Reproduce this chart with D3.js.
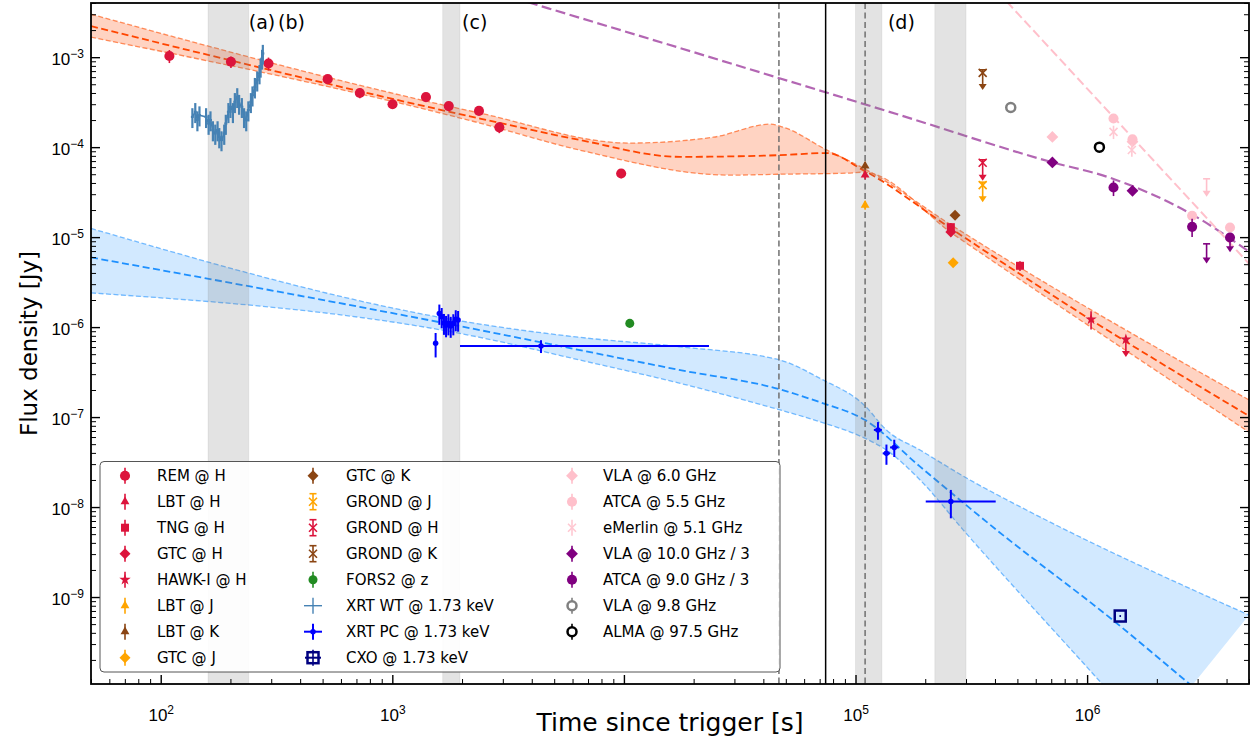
<!DOCTYPE html>
<html>
<head>
<meta charset="utf-8">
<script src="https://cdn.jsdelivr.net/npm/d3@7"></script>
<style>
  body { margin: 0; background: #fff; }
  svg { font-family: "DejaVu Sans", sans-serif; display: block; }
</style>
</head>
<body>
<svg id="vis" width="1255" height="742"></svg>
<script>
// ---------- axis ranges / ticks ----------
const X_DOMAIN = [50, 5e6];
const Y_DOMAIN = [1.08e-10, 4e-3];
const X_MAJOR = [1e2, 1e3, 1e4, 1e5, 1e6];
const X_LABELS = ["2", "3", "", "5", "6"];          // 10^4 label is hidden under the axis title
const Y_MAJOR = [1e-9, 1e-8, 1e-7, 1e-6, 1e-5, 1e-4, 1e-3];
const Y_LABELS = ["\u22129", "\u22128", "\u22127", "\u22126", "\u22125", "\u22124", "\u22123"];

// ---------- afterglow models (time [s], flux density [Jy]) ----------
// optical/NIR model
const optMidT = [50, 2390, 6460, 1.75e4, 4.72e4, 7.53e4, 1.08e5, 2.64e5, 1.01e6, 5e6];
const optMidF = [2.21e-3, 2.08e-4, 1.20e-4, 7.8e-5, 8.15e-5, 8.6e-5, 5.55e-5, 1.2e-5, 1.26e-6, 1.03e-7];
const optHiT = [50, 2390, 1.06e4, 2.43e4, 4.28e4, 4.86e4, 7.53e4, 1.08e5, 2.64e5, 5e6];
const optHiF = [3.0e-3, 2.39e-4, 1.11e-4, 1.29e-4, 1.80e-4, 1.67e-4, 9.26e-5, 5.85e-5, 1.32e-5, 1.55e-7];
const optLoT = [50, 2390, 6460, 2.87e4, 4.72e4, 9.19e4, 1.08e5, 2.64e5, 5e6];
const optLoF = [1.67e-3, 1.85e-4, 9.26e-5, 4.89e-5, 5.0e-5, 5.14e-5, 5.27e-5, 1.08e-5, 6.8e-8];
// X-ray model
const xrMidT = [50, 2390, 6460, 1.75e4, 4.72e4, 7.03e4, 1.10e5, 1.90e5, 4.07e5, 1.29e6, 2.69e6, 5e6];
const xrMidF = [5.95e-6, 9.26e-7, 5.55e-7, 3.33e-7, 2.03e-7, 1.46e-7, 9.27e-8, 2.81e-8, 5.55e-9, 5.55e-10, 1.15e-10, 3.0e-11];
const xrHiT = [50, 2390, 6460, 1.75e4, 4.72e4, 7.03e4, 1.10e5, 1.36e5, 1.90e5, 3.12e5, 5.13e5, 5e6];
const xrHiF = [1.25e-5, 1.08e-6, 7.69e-7, 6.04e-7, 4.30e-7, 2.69e-7, 1.33e-7, 7.17e-8, 4.30e-8, 2.0e-8, 1.01e-8, 6.3e-10];
const xrLoT = [50, 2390, 6460, 1.75e4, 4.72e4, 7.03e4, 1.10e5, 1.36e5, 1.90e5, 2.92e5, 1.14e6, 1.87e6];
const xrLoF = [2.40e-6, 7.69e-7, 4.30e-7, 2.37e-7, 1.20e-7, 8.87e-8, 5.80e-8, 4.30e-8, 2.0e-8, 5.55e-9, 1.14e-10, 2.75e-11];
// radio models
const radT = [2920, 1.556e5, 7.06e5, 1.22e6, 2.97e6, 5e6];
const radF = [5.06e-3, 2.27e-4, 6.8e-5, 4.68e-5, 1.67e-5, 6.9e-6];
const lowRadT = [4.5e5, 5e6];
const lowRadF = [4.14e-3, 5.06e-6];

// ---------- shaded intervals, vertical markers, labels ----------
const SPAN_LO = [160, 1650, 1.0e5, 2.2e5];
const SPAN_HI = [240, 1960, 1.3e5, 3.0e5];
const VLINE_T = [4.67e4, 7.43e4, 1.10e5];
const ANN_T = [240, 321, 2000, 1.38e5];
const ANN_F = [2.05e-3, 2.05e-3, 2.05e-3, 2.05e-3];
const ANN_TEXT = ["(a)", "(b)", "(c)", "(d)"];

// ---------- observations ----------
const remT = [109, 201, 292, 526, 724, 1002, 1397, 1753, 2367, 2898, 9730];
const remF = [1.03e-3, 8.9e-4, 8.5e-4, 5.7e-4, 4.0e-4, 3.0e-4, 3.6e-4, 2.86e-4, 2.53e-4, 1.66e-4, 5.1e-5];
const remE = [1.7e-4, 1.3e-4, 1.4e-4, 4e-5, 5e-5, 3e-5, 3e-5, 3e-5, 2.5e-5, 2.3e-5, 6e-6];
const lbtHT = [1.1e5], lbtHF = [4.9e-5], lbtHE = [5e-6];
const lbtKT = [1.1e5], lbtKF = [6.2e-5], lbtKE = [6e-6];
const lbtJT = [1.1e5], lbtJF = [2.27e-5], lbtJE = [2.5e-6];
const tngHT = [2.58e5, 5.13e5], tngHF = [1.29e-5, 4.8e-6], tngHE = [1.5e-6, 6e-7];
const gtcHT = [2.58e5], gtcHF = [1.14e-5], gtcHE = [1.2e-6];
const gtcKT = [2.69e5], gtcKF = [1.75e-5], gtcKE = [1.5e-6];
const gtcJT = [2.64e5], gtcJF = [5.2e-6], gtcJE = [4e-7];
const hawkT = [1.04e6, 1.47e6], hawkF = [1.22e-6, 7.3e-7], hawkE = [2.8e-7, 2.0e-7], hawkLim = [false, true];
const groJT = [3.54e5], groJF = [3.78e-5], groJE = [1.0e-5];
const groHT = [3.54e5], groHF = [6.7e-5], groHE = [1.9e-5];
const groKT = [3.54e5], groKF = [6.7e-4], groKE = [1.8e-4];
const forsT = [1.06e4], forsF = [1.1e-6], forsE = [1.0e-7];
const wtT = [137, 141, 144, 147, 157, 161, 164, 168, 172, 176, 179, 183, 188, 191, 196, 200,
             205, 209, 214, 218, 224, 229, 234, 239, 245, 249, 255, 261, 267, 270, 274, 276];
const wtF = [2.17e-4, 2.47e-4, 2.0e-4, 2.27e-4, 2.17e-4, 1.83e-4, 2.0e-4, 1.55e-4, 1.42e-4, 1.55e-4, 1.30e-4,
             1.20e-4, 1.42e-4, 1.83e-4, 2.47e-4, 2.81e-4, 2.47e-4, 3.19e-4, 3.62e-4, 3.05e-4, 2.81e-4, 2.17e-4,
             2.0e-4, 2.58e-4, 3.19e-4, 3.78e-4, 4.68e-4, 5.55e-4, 6.59e-4, 7.82e-4, 9.67e-4, 1.10e-3];
const wtE = [5.4e-5, 6.2e-5, 5.0e-5, 5.7e-5, 5.4e-5, 4.6e-5, 5.0e-5, 3.9e-5, 3.6e-5, 3.9e-5, 3.3e-5,
             3.0e-5, 3.6e-5, 4.6e-5, 6.2e-5, 7.0e-5, 6.2e-5, 8.0e-5, 9.0e-5, 7.6e-5, 7.0e-5, 5.4e-5,
             5.0e-5, 6.5e-5, 8.0e-5, 9.5e-5, 1.2e-4, 1.4e-4, 1.6e-4, 1.9e-4, 2.4e-4, 2.7e-4];
const wtX = [2, 2, 2, 2, 2.4, 2.4, 2.5, 2.5, 2.6, 2.6, 2.7, 2.7, 2.8, 2.9, 2.9, 3,
             3.1, 3.1, 3.2, 3.3, 3.4, 3.4, 3.5, 3.6, 3.7, 3.7, 3.8, 3.9, 4, 4, 4.1, 4.1];
const pcT = [1538, 1596, 1634, 1671, 1706, 1746, 1787, 1834, 1879, 1923, 4385, 1.25e5, 1.36e5, 1.47e5, 2.58e5];
const pcF = [6.6e-7, 1.42e-6, 1.30e-6, 1.11e-6, 1.05e-6, 1.10e-6, 1.03e-6, 1.10e-6, 1.22e-6, 1.20e-6,
             6.15e-7, 7.2e-8, 3.95e-8, 4.6e-8, 1.15e-8];
const pcE = [2.0e-7, 3.6e-7, 3.3e-7, 2.9e-7, 2.8e-7, 2.9e-7, 2.7e-7, 2.9e-7, 3.2e-7, 3.1e-7,
             1.0e-7, 1.6e-8, 1.0e-8, 1.0e-8, 4.0e-9];
const pcXlo = [25, 25, 25, 25, 25, 25, 25, 25, 30, 30, 2425, 5e3, 5e3, 6e3, 5.7e4];
const pcXhi = [25, 25, 25, 25, 25, 25, 25, 25, 30, 30, 18915, 5e3, 5e3, 6e3, 1.45e5];
const cxoT = [1.39e6], cxoF = [6.15e-10], cxoE = [1.5e-11];
const vla6T = [7.08e5, 1.57e6], vla6F = [1.30e-4, 1.15e-4], vla6E = [8e-6, 8e-6];
const atca55T = [1.30e6, 1.57e6, 2.84e6, 4.14e6], atca55F = [2.08e-4, 1.22e-4, 1.73e-5, 1.28e-5];
const atca55E = [1.5e-5, 1.0e-5, 2.0e-6, 1.5e-6];
const emerT = [1.30e6, 1.56e6], emerF = [1.48e-4, 9.3e-5], emerE = [2.5e-5, 1.5e-5];
const vla10T = [7.08e5, 1.57e6], vla10F = [6.76e-5, 3.27e-5], vla10E = [4e-6, 2.5e-6];
const atca9T = [1.30e6, 2.84e6, 4.14e6], atca9F = [3.56e-5, 1.30e-5, 9.9e-6];
const atca9E = [7e-6, 3e-6, 2.2e-6], atca9Lim = [false, false, true];
const vla98T = [4.68e5], vla98F = [2.76e-4], vla98E = [1e-5];
const almaT = [1.13e6], almaF = [1.0e-4], almaE = [4e-6];
// radio upper limits drawn without a marker
const emerLimT = [3.28e6], emerLimF = [4.12e-5], emerLimE = [9.3e-6];
const atcaLimT = [3.28e6], atcaLimF = [7.8e-6], atcaLimE = [2.0e-6];

// ---------- series table (style + references to arrays above) ----------
const SERIES = [
  {label: "REM @ H", t: remT, f: remF, e: remE, color: "#dc143c", shape: "circle", size: 80},
  {label: "LBT @ H", t: lbtHT, f: lbtHF, e: lbtHE, color: "#dc143c", shape: "triangle", size: 34},
  {label: "TNG @ H", t: tngHT, f: tngHF, e: tngHE, color: "#dc143c", shape: "square", size: 64},
  {label: "GTC @ H", t: gtcHT, f: gtcHF, e: gtcHE, color: "#dc143c", shape: "diamond", size: 60},
  {label: "HAWK-I @ H", t: hawkT, f: hawkF, e: hawkE, lim: hawkLim, color: "#dc143c", shape: "star", size: 40},
  {label: "LBT @ J", t: lbtJT, f: lbtJF, e: lbtJE, color: "#ffa500", shape: "triangle", size: 34},
  {label: "LBT @ K", t: lbtKT, f: lbtKF, e: lbtKE, color: "#8b4513", shape: "triangle", size: 34},
  {label: "GTC @ J", t: gtcJT, f: gtcJF, e: gtcJE, color: "#ffa500", shape: "diamond", size: 60},
  {label: "GTC @ K", t: gtcKT, f: gtcKF, e: gtcKE, color: "#8b4513", shape: "diamond", size: 60},
  {label: "GROND @ J", t: groJT, f: groJF, e: groJE, lim: [true], cap: true, color: "#ffa500", shape: "x", size: 4},
  {label: "GROND @ H", t: groHT, f: groHF, e: groHE, lim: [true], cap: true, color: "#dc143c", shape: "x", size: 4},
  {label: "GROND @ K", t: groKT, f: groKF, e: groKE, lim: [true], cap: true, color: "#8b4513", shape: "x", size: 4},
  {label: "FORS2 @ z", t: forsT, f: forsF, e: forsE, color: "#228b22", shape: "circle", size: 64},
  {label: "XRT WT @ 1.73 keV", t: wtT, f: wtF, e: wtE, xlo: wtX, xhi: wtX, join: true,
   color: "#4682b4", shape: "none", width: 2.2, legendWidth: 1.4},
  {label: "XRT PC @ 1.73 keV", t: pcT, f: pcF, e: pcE, xlo: pcXlo, xhi: pcXhi, color: "#0000ff", shape: "circle", size: 24, width: 2},
  {label: "CXO @ 1.73 keV", t: cxoT, f: cxoF, e: cxoE, color: "#000080", shape: "opensquare", size: 11},
  {label: "VLA @ 6.0 GHz", t: vla6T, f: vla6F, e: vla6E, color: "#ffc0cb", shape: "diamond", size: 70},
  {label: "ATCA @ 5.5 GHz", t: atca55T, f: atca55F, e: atca55E, color: "#ffc0cb", shape: "circle", size: 80},
  {label: "eMerlin @ 5.1 GHz", t: emerT, f: emerF, e: emerE, color: "#ffc8d2", shape: "x", size: 4},
  {label: "VLA @ 10.0 GHz / 3", t: vla10T, f: vla10F, e: vla10E, color: "#800080", shape: "diamond", size: 70},
  {label: "ATCA @ 9.0 GHz / 3", t: atca9T, f: atca9F, e: atca9E, lim: atca9Lim, color: "#800080", shape: "circle", size: 80},
  {label: "VLA @ 9.8 GHz", t: vla98T, f: vla98F, e: vla98E, color: "#808080", shape: "opencircle", size: 4.5},
  {label: "ALMA @ 97.5 GHz", t: almaT, f: almaF, e: almaE, color: "#000000", shape: "opencircle", size: 4.5},
  {label: null, t: emerLimT, f: emerLimF, e: emerLimE, lim: [true], cap: true, color: "#ffc0cb", shape: "none"},
  {label: null, t: atcaLimT, f: atcaLimF, e: atcaLimE, lim: [true], cap: true, color: "#800080", shape: "none"}
];

const MARGINS = {top: 3, right: 6, bottom: 58, left: 91};
const svg = d3.select("#vis");
const W = +svg.attr("width"), H = +svg.attr("height");

const x = d3.scaleLog().domain(X_DOMAIN).range([MARGINS.left, W - MARGINS.right]);
const y = d3.scaleLog().domain(Y_DOMAIN).range([H - MARGINS.bottom, MARGINS.top]);
const plotW = W - MARGINS.left - MARGINS.right, plotH = H - MARGINS.top - MARGINS.bottom;

svg.append("defs").append("clipPath").attr("id", "clip")
  .append("rect").attr("x", MARGINS.left).attr("y", MARGINS.top).attr("width", plotW).attr("height", plotH);
const plot = svg.append("g").attr("clip-path", "url(#clip)");

// ---------- models ----------
const curve = d3.line().curve(d3.curveMonotoneX);
function toPts(ts, fs) { return ts.map((t, i) => [x(t), y(fs[i])]); }

function drawModel(mid, hi, lo, c) {
  const up = curve(hi);
  const dn = curve(lo.slice().reverse()).replace(/^M/, "L");
  plot.append("path").attr("d", up + dn + "Z").attr("fill", c.fill).attr("fill-opacity", c.alpha);
  [hi, lo].forEach(p => plot.append("path").attr("d", curve(p))
    .attr("fill", "none").attr("stroke", c.edge).attr("stroke-opacity", 0.75)
    .attr("stroke-width", 1.3).attr("stroke-dasharray", "5,2.5"));
  plot.append("path").attr("d", curve(mid)).attr("fill", "none")
    .attr("stroke", c.line).attr("stroke-width", 1.8).attr("stroke-dasharray", "7,3.5");
}

drawModel(toPts(optMidT, optMidF), toPts(optHiT, optHiF), toPts(optLoT, optLoF),
  {fill: "#ff4500", alpha: 0.24, edge: "#ff6a2a", line: "#ff4500"});
drawModel(toPts(xrMidT, xrMidF), toPts(xrHiT, xrHiF), toPts(xrLoT, xrLoF),
  {fill: "#1e90ff", alpha: 0.2, edge: "#4aa6ff", line: "#1e90ff"});

plot.append("path").attr("d", curve(toPts(radT, radF))).attr("fill", "none")
  .attr("stroke", "#800080").attr("stroke-opacity", 0.6).attr("stroke-width", 2.2).attr("stroke-dasharray", "10,4.5");
plot.append("path").attr("d", curve(toPts(lowRadT, lowRadF))).attr("fill", "none")
  .attr("stroke", "#ffc0cb").attr("stroke-width", 2).attr("stroke-dasharray", "9,4");

// ---------- shaded windows and vertical lines ----------
SPAN_LO.forEach((lo, i) => {
  plot.append("rect").attr("x", x(lo)).attr("width", x(SPAN_HI[i]) - x(lo))
    .attr("y", MARGINS.top).attr("height", plotH)
    .attr("fill", "#808080").attr("fill-opacity", 0.22)
    .attr("stroke", "#808080").attr("stroke-opacity", 0.12);
});
VLINE_T.forEach((t, i) => {
  const solid = i === 1;
  plot.append("line").attr("x1", x(t)).attr("x2", x(t))
    .attr("y1", MARGINS.top).attr("y2", H - MARGINS.bottom)
    .attr("stroke", solid ? "#000" : "#707070").attr("stroke-width", 1.5)
    .attr("stroke-dasharray", solid ? null : "6,3.5");
});

// ---------- markers ----------
function markerPath(shape, size) {
  switch (shape) {
    case "circle": return d3.symbol(d3.symbolCircle, size)();
    case "triangle": return d3.symbol(d3.symbolTriangle, size)();
    case "square": return d3.symbol(d3.symbolSquare, size)();
    case "diamond": return d3.symbol(d3.symbolSquare, size)();
    case "star": return d3.symbol(d3.symbolStar, size)();
    default: return null;
  }
}

function drawMarker(g, s, cx, cy) {
  const col = s.color;
  if (s.shape === "x") {
    const r = s.size;
    g.append("path").attr("d", `M${cx - r},${cy - r}L${cx + r},${cy + r}M${cx - r},${cy + r}L${cx + r},${cy - r}`)
      .attr("stroke", col).attr("stroke-width", 1.6).attr("fill", "none");
  } else if (s.shape === "opensquare") {
    const h = s.size / 2;
    g.append("rect").attr("x", cx - h).attr("y", cy - h).attr("width", s.size).attr("height", s.size)
      .attr("fill", "none").attr("stroke", col).attr("stroke-width", 2.5);
  } else if (s.shape === "opencircle") {
    g.append("circle").attr("cx", cx).attr("cy", cy).attr("r", s.size)
      .attr("fill", "#fff").attr("stroke", col).attr("stroke-width", 2.5);
  } else if (s.shape !== "none") {
    const rot = s.shape === "diamond" ? " rotate(45)" : "";
    g.append("path").attr("d", markerPath(s.shape, s.size))
      .attr("transform", `translate(${cx},${cy})${rot}`).attr("fill", col);
  }
}

function vbar(g, col, w, cx, y1, y2) {
  g.append("line").attr("x1", cx).attr("x2", cx).attr("y1", y1).attr("y2", y2)
    .attr("stroke", col).attr("stroke-width", w);
}
function hbar(g, col, w, cy, x1, x2) {
  g.append("line").attr("x1", x1).attr("x2", x2).attr("y1", cy).attr("y2", cy)
    .attr("stroke", col).attr("stroke-width", w);
}
function caret(g, col, cx, cy) {
  g.append("path").attr("d", `M${cx - 4},${cy - 1}L${cx + 4},${cy - 1}L${cx},${cy + 5}Z`).attr("fill", col);
}

const pts = svg.append("g").attr("clip-path", "url(#clip)");
SERIES.forEach(s => {
  const g = pts.append("g");
  const w = s.width || 1.6;
  if (s.join) {
    g.append("path").attr("d", d3.line()(toPts(s.t, s.f))).attr("fill", "none")
      .attr("stroke", s.color).attr("stroke-width", 1.6);
  }
  s.t.forEach((t, i) => {
    const cx = x(t), cy = y(s.f[i]);
    const lim = s.lim && s.lim[i];
    if (s.xlo) hbar(g, s.color, w, cy, x(t - s.xlo[i]), x(t + s.xhi[i]));
    if (lim) {
      const yt = y(s.f[i] - s.e[i]);
      const top = s.cap ? cy - 3 : cy;
      vbar(g, s.color, w, cx, top, yt);
      if (s.cap) hbar(g, s.color, w, top, cx - 3.5, cx + 3.5);
      caret(g, s.color, cx, yt);
    } else if (s.e) {
      const y1 = y(s.f[i] + s.e[i]), y2 = y(s.f[i] - s.e[i]);
      vbar(g, s.color, w, cx, y1, y2);
      if (s.cap) { hbar(g, s.color, w, y1, cx - 3.5, cx + 3.5); hbar(g, s.color, w, y2, cx - 3.5, cx + 3.5); }
    }
    drawMarker(g, s, cx, cy);
  });
});

// ---------- annotations ----------
ANN_TEXT.forEach((txt, i) => {
  svg.append("text").attr("x", x(ANN_T[i])).attr("y", y(ANN_F[i]))
    .attr("font-size", 19).attr("fill", "#000").text(txt);
});

// ---------- axes ----------
function supLabels(sel, labels, anchor) {
  sel.selectAll(".tick text").each(function (d, i) {
    const t = d3.select(this);
    t.text(null).attr("font-size", 17).attr("fill", "#000").attr("text-anchor", anchor);
    if (!labels[i]) return;
    t.append("tspan").text("10");
    t.append("tspan").attr("dy", -7).attr("font-size", 12).text(labels[i]);
  });
}

function minorTicks(domain) {
  const out = [];
  for (let e = Math.floor(Math.log10(domain[0])); e <= Math.ceil(Math.log10(domain[1])); e++) {
    for (let k = 2; k <= 9; k++) {
      const v = k * Math.pow(10, e);
      if (v >= domain[0] && v <= domain[1]) out.push(v);
    }
  }
  return out;
}

const axes = svg.append("g");
const gxMin = axes.append("g").attr("transform", `translate(0,${H - MARGINS.bottom})`)
  .call(d3.axisBottom(x).tickValues(minorTicks(X_DOMAIN)).tickSizeInner(-5).tickSizeOuter(0).tickFormat(""));
const gx = axes.append("g").attr("transform", `translate(0,${H - MARGINS.bottom})`)
  .call(d3.axisBottom(x).tickValues(X_MAJOR).tickSizeInner(-9).tickSizeOuter(0).tickPadding(25));
supLabels(gx, X_LABELS, "middle");

const gyMin = axes.append("g").attr("transform", `translate(${MARGINS.left},0)`)
  .call(d3.axisLeft(y).tickValues(minorTicks(Y_DOMAIN)).tickSizeInner(-5).tickSizeOuter(0).tickFormat(""));
const gy = axes.append("g").attr("transform", `translate(${MARGINS.left},0)`)
  .call(d3.axisLeft(y).tickValues(Y_MAJOR).tickSizeInner(-9).tickSizeOuter(0).tickPadding(7));
supLabels(gy, Y_LABELS, "end");
gy.selectAll(".tick text").attr("dy", "0.45em");

const gyrMin = axes.append("g").attr("transform", `translate(${W - MARGINS.right},0)`)
  .call(d3.axisRight(y).tickValues(minorTicks(Y_DOMAIN)).tickSizeInner(-5).tickSizeOuter(0).tickFormat(""));
const gyr = axes.append("g").attr("transform", `translate(${W - MARGINS.right},0)`)
  .call(d3.axisRight(y).tickValues(Y_MAJOR).tickSizeInner(-9).tickSizeOuter(0).tickFormat(""));

axes.selectAll(".domain").remove();
axes.selectAll(".tick line").attr("stroke", "#000");
[gx, gy, gyr].forEach(g => g.selectAll(".tick line").attr("stroke-width", 1.4));
[gxMin, gyMin, gyrMin].forEach(g => g.selectAll(".tick line").attr("stroke-width", 1));

svg.append("text").attr("x", MARGINS.left + plotW / 2).attr("y", 731)
  .attr("text-anchor", "middle").attr("font-size", 25).text("Time since trigger [s]");
svg.append("text").attr("transform", `translate(37,${MARGINS.top + plotH / 2}) rotate(-90)`)
  .attr("text-anchor", "middle").attr("font-size", 23).text("Flux density [Jy]");

// ---------- legend ----------
const LEG = {x: 100, y: 461.5, w: 680, h: 210.5, rows: 8, row0: 475.7, step: 26,
             markX: [125, 313, 572], textX: [157, 346, 603]};
const leg = svg.append("g");
leg.append("rect").attr("x", LEG.x).attr("y", LEG.y).attr("width", LEG.w).attr("height", LEG.h)
  .attr("rx", 4).attr("fill", "#fff").attr("fill-opacity", 0.9).attr("stroke", "#555").attr("stroke-width", 1);

SERIES.filter(s => s.label).forEach((s, i) => {
  const col = Math.floor(i / LEG.rows), row = i % LEG.rows;
  const cx = LEG.markX[col], cy = LEG.row0 + row * LEG.step;
  const g = leg.append("g");
  const w = s.legendWidth || s.width || 1.6;
  if (s.xlo) hbar(g, s.color, w, cy, cx - 9, cx + 9);
  vbar(g, s.color, w, cx, cy - 8, cy + 8);
  if (s.cap) { hbar(g, s.color, w, cy - 8, cx - 3.5, cx + 3.5); hbar(g, s.color, w, cy + 8, cx - 3.5, cx + 3.5); }
  if (s.shape === "opensquare") { hbar(g, s.color, 2, cy, cx - 8, cx + 8); }
  drawMarker(g, s, cx, cy);
  leg.append("text").attr("x", LEG.textX[col]).attr("y", cy + 5.5).attr("font-size", 15).text(s.label);
});

// ---------- frame ----------
svg.append("rect").attr("x", MARGINS.left).attr("y", MARGINS.top).attr("width", plotW).attr("height", plotH)
  .attr("fill", "none").attr("stroke", "#000").attr("stroke-width", 1.8);
</script>
</body>
</html>
